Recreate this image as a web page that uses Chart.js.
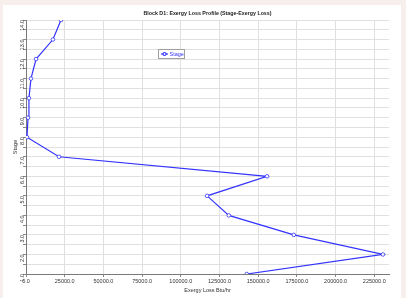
<!DOCTYPE html>
<html>
<head>
<meta charset="utf-8">
<script src="https://cdn.jsdelivr.net/npm/chart.js@4.4.0/dist/chart.umd.min.js"></script>
<style>
  html, body { margin: 0; padding: 0; background: #f6efeb; }
  #wrap { position: relative; width: 406px; height: 298px; }
</style>
</head>
<body>
<div id="wrap"><canvas id="grafico" width="406" height="298"></canvas></div>
<script>
// Datos
var etapas = [1, 2, 3, 4, 5, 6, 7, 8, 9, 10, 11, 12, 13, 14];
var perdidas = [142600, 230600, 173000, 131000, 117000, 155700, 21300, 650, 1300, 1900, 3200, 6500, 17400, 22600];
var etiquetaSerie = "Stage";
var tituloGrafico = "Block D1: Exergy Loss Profile (Stage-Exergy Loss)";
var tituloX = "Exergy Loss Btu/hr";
var tituloY = "Stage";
// Marcas de los ejes
var marcasX = [0, 25000, 50000, 75000, 100000, 125000, 150000, 175000, 200000, 225000];
var marcasY = [1, 1.5, 2, 2.5, 3, 3.5, 4, 4.5, 5, 5.5, 6, 6.5, 7, 7.5, 8, 8.5, 9, 9.5, 10, 10.5, 11, 11.5, 12, 12.5, 13, 13.5, 14];

var puntos = etapas.map(function (e, i) {
    return { x: perdidas[i], y: e };
});

var fuente = "'Liberation Sans', Arial, sans-serif";

// Fondo y panel blanco
var fondo = {
    id: "fondo",
    beforeDraw: function (chart) {
        var c = chart.ctx;
        c.save();
        c.fillStyle = "#f6efeb";
        c.fillRect(0, 0, chart.width, chart.height);
        c.fillStyle = "#ffffff";
        c.fillRect(3, 5, 398, 293);
        c.restore();
    }
};

// Titulo centrado sobre el area de trazado
var titulo = {
    id: "titulo",
    afterDraw: function (chart) {
        var c = chart.ctx;
        var area = chart.chartArea;
        c.save();
        c.fillStyle = "#222222";
        c.font = "bold 5.3px " + fuente;
        c.textAlign = "center";
        c.textBaseline = "middle";
        c.fillText(tituloGrafico, (area.left + area.right) / 2, 14);
        c.restore();
    }
};

// Leyenda flotante dentro del area
var leyenda = {
    id: "leyenda",
    afterDraw: function (chart) {
        var c = chart.ctx;
        var ds = chart.data.datasets[0];
        c.save();
        c.fillStyle = "#ffffff";
        c.fillRect(158, 49, 27, 10);
        c.strokeStyle = "#a0a0a0";
        c.lineWidth = 1;
        c.strokeRect(158.5, 49.5, 26, 9);
        c.strokeStyle = ds.borderColor;
        c.lineWidth = 1.2;
        c.beginPath();
        c.moveTo(161, 54);
        c.lineTo(168, 54);
        c.stroke();
        c.beginPath();
        c.arc(164.5, 54, 1.5, 0, Math.PI * 2);
        c.fillStyle = "#ffffff";
        c.fill();
        c.stroke();
        c.fillStyle = ds.borderColor;
        c.font = "5.5px " + fuente;
        c.textBaseline = "middle";
        c.fillText(ds.label, 169.5, 54.3);
        c.restore();
    }
};

function marcasFijas(lista) {
    return function (escala) {
        escala.ticks = lista.map(function (v) { return { value: v }; });
    };
}

var ctx = document.getElementById("grafico").getContext("2d");
var miGrafico = new Chart(ctx, {
    type: "line",
    data: {
        datasets: [
            {
                label: etiquetaSerie,
                data: puntos,
                borderColor: "#3333ff",
                backgroundColor: "#ffffff",
                borderWidth: 1.2,
                pointRadius: 1.8,
                pointBorderWidth: 0.8,
                pointBackgroundColor: "#ffffff",
                tension: 0,
            },
        ],
    },
    options: {
        responsive: false,
        animation: false,
        layout: { padding: { left: 0, right: 17, top: 20, bottom: 0 } },
        plugins: {
            legend: { display: false },
            tooltip: { enabled: false },
            title: { display: false },
        },
        scales: {
            x: {
                type: "linear",
                min: 0,
                max: 234500,
                afterFit: function (escala) { escala.height = 24; },
                afterBuildTicks: marcasFijas(marcasX),
                ticks: {
                    color: "#333333",
                    font: { family: fuente, size: 5.5 },
                    padding: 1,
                    minRotation: 0,
                    maxRotation: 0,
                    autoSkip: false,
                    callback: function (v) { return Number(v).toFixed(1); },
                },
                grid: { color: "#e0e0e0", tickLength: 3, tickColor: "#888888" },
                border: { color: "#7a7a7a", width: 1 },
                title: {
                    display: true,
                    text: tituloX,
                    color: "#333333",
                    font: { family: fuente, size: 5.5 },
                    padding: { top: 0, bottom: 4 },
                },
            },
            y: {
                type: "linear",
                min: 1,
                max: 14,
                afterFit: function (escala) { escala.width = 26; },
                afterBuildTicks: marcasFijas(marcasY),
                ticks: {
                    color: "#333333",
                    font: { family: fuente, size: 5.5 },
                    minRotation: 90,
                    maxRotation: 90,
                    padding: 1,
                    autoSkip: false,
                    callback: function (v) { return Number.isInteger(v) ? v.toFixed(1) : ""; },
                },
                grid: { color: "#e0e0e0", tickLength: 3, tickColor: "#888888" },
                border: { color: "#7a7a7a", width: 1 },
                title: {
                    display: true,
                    text: tituloY,
                    color: "#333333",
                    font: { family: fuente, size: 5.5 },
                    padding: { top: 12, bottom: 0 },
                },
            },
        },
    },
    plugins: [fondo, titulo, leyenda],
});
</script>
</body>
</html>
